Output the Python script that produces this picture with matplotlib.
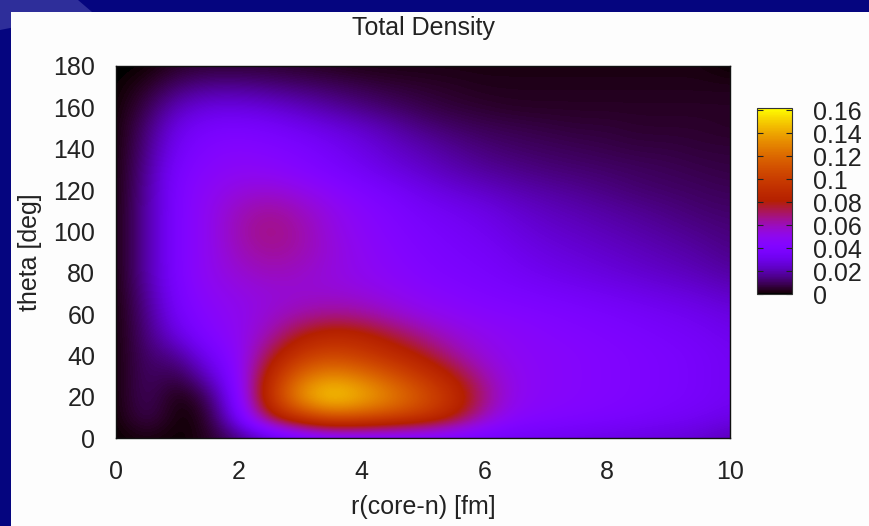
import numpy as np
import matplotlib
matplotlib.use("Agg")
import matplotlib.pyplot as plt
from matplotlib.patches import Rectangle, Polygon

# grid: r [fm] columns, theta [deg] rows
r_fm = [0, 0.5, 1, 1.5, 2, 2.5, 3, 3.5, 4, 4.5, 5, 5.5, 6, 6.5, 7, 7.5, 8, 8.5, 9, 9.5, 10]
theta_deg = [0, 10, 20, 30, 40, 50, 60, 70, 80, 90, 100, 110, 120, 130, 140, 150, 160, 170, 180]

dens_t000 = [0, 0.002, 0, 0.003, 0.012, 0.022, 0.03, 0.034, 0.035, 0.035, 0.035, 0.034, 0.033, 0.032, 0.031, 0.03, 0.029, 0.028, 0.027, 0.025, 0.02]
dens_t010 = [0, 0.01, 0, 0.003, 0.035, 0.078, 0.1, 0.115, 0.112, 0.106, 0.098, 0.084, 0.06, 0.046, 0.043, 0.041, 0.039, 0.037, 0.035, 0.033, 0.03]
dens_t020 = [0, 0.012, 0, 0.008, 0.042, 0.095, 0.138, 0.156, 0.145, 0.13, 0.112, 0.092, 0.068, 0.05, 0.046, 0.044, 0.042, 0.04, 0.038, 0.036, 0.033]
dens_t030 = [0, 0.012, 0.006, 0.022, 0.045, 0.088, 0.122, 0.134, 0.126, 0.112, 0.097, 0.081, 0.062, 0.05, 0.046, 0.044, 0.042, 0.04, 0.038, 0.036, 0.033]
dens_t040 = [0, 0.012, 0.015, 0.033, 0.047, 0.074, 0.098, 0.106, 0.1, 0.09, 0.079, 0.065, 0.054, 0.048, 0.046, 0.044, 0.042, 0.04, 0.038, 0.036, 0.033]
dens_t050 = [0, 0.013, 0.028, 0.042, 0.049, 0.062, 0.079, 0.087, 0.084, 0.075, 0.065, 0.056, 0.05, 0.047, 0.044, 0.042, 0.04, 0.038, 0.036, 0.034, 0.031]
dens_t060 = [0, 0.014, 0.035, 0.045, 0.05, 0.056, 0.062, 0.066, 0.064, 0.058, 0.052, 0.048, 0.045, 0.043, 0.041, 0.039, 0.037, 0.035, 0.033, 0.031, 0.028]
dens_t070 = [0, 0.016, 0.038, 0.048, 0.052, 0.055, 0.056, 0.056, 0.054, 0.05, 0.046, 0.043, 0.04, 0.038, 0.036, 0.034, 0.032, 0.03, 0.028, 0.026, 0.023]
dens_t080 = [0, 0.018, 0.04, 0.05, 0.056, 0.06, 0.058, 0.054, 0.05, 0.046, 0.042, 0.039, 0.037, 0.034, 0.031, 0.029, 0.027, 0.025, 0.023, 0.021, 0.018]
dens_t090 = [0, 0.018, 0.04, 0.05, 0.06, 0.065, 0.062, 0.055, 0.049, 0.044, 0.04, 0.037, 0.035, 0.031, 0.028, 0.026, 0.024, 0.022, 0.02, 0.018, 0.015]
dens_t100 = [0, 0.018, 0.04, 0.05, 0.062, 0.068, 0.063, 0.054, 0.047, 0.042, 0.038, 0.035, 0.032, 0.028, 0.025, 0.023, 0.021, 0.019, 0.017, 0.015, 0.013]
dens_t110 = [0, 0.018, 0.04, 0.05, 0.06, 0.065, 0.06, 0.052, 0.045, 0.04, 0.035, 0.032, 0.029, 0.025, 0.022, 0.02, 0.018, 0.016, 0.014, 0.012, 0.011]
dens_t120 = [0, 0.017, 0.04, 0.048, 0.054, 0.056, 0.052, 0.046, 0.04, 0.035, 0.03, 0.026, 0.023, 0.02, 0.018, 0.016, 0.014, 0.012, 0.011, 0.01, 0.009]
dens_t130 = [0, 0.016, 0.038, 0.045, 0.048, 0.047, 0.043, 0.038, 0.033, 0.028, 0.024, 0.02, 0.017, 0.015, 0.013, 0.012, 0.011, 0.01, 0.009, 0.008, 0.007]
dens_t140 = [0, 0.014, 0.034, 0.042, 0.044, 0.042, 0.039, 0.034, 0.029, 0.024, 0.02, 0.016, 0.013, 0.011, 0.01, 0.009, 0.008, 0.007, 0.007, 0.006, 0.006]
dens_t150 = [0, 0.012, 0.03, 0.037, 0.038, 0.036, 0.032, 0.028, 0.024, 0.019, 0.014, 0.011, 0.009, 0.008, 0.007, 0.006, 0.006, 0.005, 0.005, 0.005, 0.004]
dens_t160 = [0, 0.008, 0.022, 0.028, 0.028, 0.026, 0.022, 0.018, 0.014, 0.011, 0.008, 0.006, 0.005, 0.004, 0.004, 0.004, 0.004, 0.004, 0.004, 0.004, 0.004]
dens_t170 = [0, 0.004, 0.012, 0.016, 0.016, 0.014, 0.012, 0.01, 0.008, 0.006, 0.005, 0.004, 0.003, 0.003, 0.003, 0.003, 0.003, 0.003, 0.003, 0.003, 0.003]
dens_t180 = [0, 0, 0.004, 0.005, 0.005, 0.005, 0.004, 0.003, 0.002, 0.002, 0.002, 0.002, 0.002, 0.002, 0.002, 0.002, 0.002, 0.002, 0.002, 0.002, 0]

cb_ticks = [0, 0.02, 0.04, 0.06, 0.08, 0.1, 0.12, 0.14, 0.16]
cb_labels = ["0", "0.02", "0.04", "0.06", "0.08", "0.1", "0.12", "0.14", "0.16"]
x_ticks = [0, 2, 4, 6, 8, 10]
y_ticks = [0, 20, 40, 60, 80, 100, 120, 140, 160, 180]

density = np.array([dens_t000, dens_t010, dens_t020, dens_t030, dens_t040,
                    dens_t050, dens_t060, dens_t070, dens_t080, dens_t090,
                    dens_t100, dens_t110, dens_t120, dens_t130, dens_t140,
                    dens_t150, dens_t160, dens_t170, dens_t180])

plt.rcParams['font.family'] = ['Liberation Sans', 'DejaVu Sans']
W, H = 870, 526
fig = plt.figure(figsize=(W / 100, H / 100), dpi=100, facecolor="#05057f")

# slide background: navy frame with white panel
fig.patches.append(Polygon([(0, 1), (78 / W, 1), (92 / W, 1 - 12 / H), (0, 1 - 30 / H)],
                           closed=True, transform=fig.transFigure,
                           facecolor="#2e2e9a", edgecolor="none", zorder=-10))
fig.patches.append(Rectangle((11 / W, 0), 1, 1 - 12 / H, transform=fig.transFigure,
                             facecolor="#fdfdfd", edgecolor="none", zorder=-9))

ax = fig.add_axes([116 / W, 1 - 438 / H, 614 / W, 372 / H])
dr = (r_fm[1] - r_fm[0]) / 2
dt = (theta_deg[1] - theta_deg[0]) / 2
im = ax.imshow(density, origin="lower", aspect="auto", cmap="gnuplot",
               vmin=0, vmax=0.162, interpolation="bicubic",
               extent=[r_fm[0] - dr, r_fm[-1] + dr, theta_deg[0] - dt, theta_deg[-1] + dt])
ax.set_xlim(0, 10)
ax.set_ylim(0, 180)
ax.set_xticks(x_ticks)
ax.set_yticks(y_ticks)
ax.tick_params(length=0, labelsize=18, colors="#222222")
ax.tick_params(axis="x", pad=16)
ax.tick_params(axis="y", pad=15)
for s in ax.spines.values():
    s.set_linewidth(1.0)
    s.set_color("#111111")

ax.set_title("Total Density", fontsize=18, color="#222222", pad=22)
ax.set_xlabel("r(core-n) [fm]", fontsize=18, color="#222222", labelpad=8)
ax.set_ylabel("theta [deg]", fontsize=18, color="#222222", labelpad=8)

cax = fig.add_axes([757 / W, 1 - 294 / H, 35 / W, 186 / H])
cb = fig.colorbar(im, cax=cax, ticks=cb_ticks)
cb.ax.set_yticklabels(cb_labels)
cb.ax.tick_params(labelsize=18, colors="#222222", direction="in", length=4,
                  left=True, right=True, pad=15)
cb.outline.set_linewidth(0.8)
cb.outline.set_edgecolor("#333333")

fig.savefig("out.png", dpi=100, facecolor=fig.get_facecolor())
